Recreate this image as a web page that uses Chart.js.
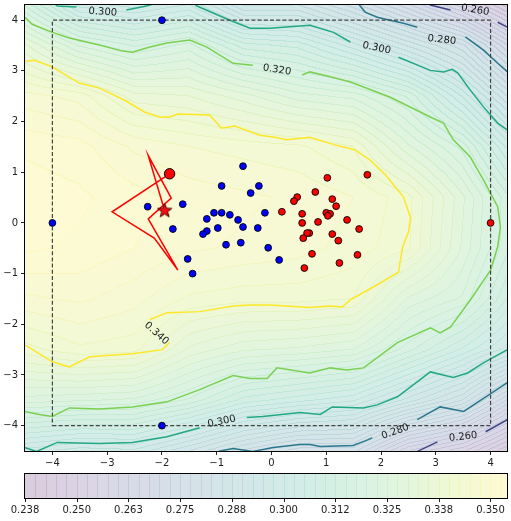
<!DOCTYPE html>
<html lang="en">
<head>
<meta charset="UTF-8" />
<title>Contour map</title>
<script src="https://cdn.jsdelivr.net/npm/chart.js"></script>
<style>
  html, body { margin: 0; padding: 0; background: #fff; }
</style>
</head>
<body>
<canvas id="chart" width="511" height="521"></canvas>
<script>
  // axis ticks
  const xTicks = [-4, -3, -2, -1, 0, 1, 2, 3, 4];
  const yTicks = [-4, -3, -2, -1, 0, 1, 2, 3, 4];
  const cbTicks = [0.2375, 0.25, 0.2625, 0.275, 0.2875, 0.3, 0.3125, 0.325, 0.3375, 0.35];
  const cbTickLabels = ['0.238', '0.250', '0.263', '0.275', '0.288', '0.300', '0.312', '0.325', '0.338', '0.350'];
  const cbMin = 0.2375, cbMax = 0.354, cbStep = 0.0025;

  // coarse value grid (rows top -> bottom)
  const gridX = [-4.5, -3.5, -2.5, -1.5, -0.5, 0.5, 1.5, 2.5, 3.5, 4.5];
  const gridY = [4.5, 3.5, 2.5, 1.5, 0.5, -0.5, -1.5, -2.5, -3.5, -4.5];
  const fieldZ = [
    [0.313, 0.296, 0.294, 0.298, 0.284, 0.285, 0.276, 0.265, 0.252, 0.238],
    [0.333, 0.322, 0.317, 0.321, 0.311, 0.309, 0.301, 0.292, 0.283, 0.264],
    [0.346, 0.344, 0.336, 0.335, 0.331, 0.326, 0.324, 0.317, 0.302, 0.284],
    [0.352, 0.351, 0.347, 0.345, 0.344, 0.343, 0.340, 0.328, 0.319, 0.301],
    [0.354, 0.353, 0.351, 0.349, 0.348, 0.347, 0.345, 0.341, 0.328, 0.313],
    [0.353, 0.352, 0.350, 0.348, 0.347, 0.346, 0.344, 0.3405, 0.327, 0.313],
    [0.347, 0.348, 0.346, 0.342, 0.341, 0.341, 0.340, 0.327, 0.322, 0.307],
    [0.339, 0.342, 0.341, 0.332, 0.328, 0.327, 0.325, 0.316, 0.307, 0.297],
    [0.324, 0.323, 0.322, 0.317, 0.309, 0.306, 0.303, 0.294, 0.285, 0.266],
    [0.299, 0.296, 0.297, 0.290, 0.282, 0.276, 0.276, 0.260, 0.253, 0.240]
  ];

  // contour lines, split where the inline labels sit
  const c340 = [
    [[-4.51,3.19],[-4.33,3.21],[-4.02,3.09],[-3.51,2.76],[-3.14,2.66],[-2.68,2.42],[-2.32,2.19],[-2.04,2.09],[-1.86,2.09],[-1.71,2.15],[-1.13,2.13],[-0.91,1.87],[-0.67,1.91],[-0.21,1.73],[0.06,1.69],[0.28,1.64],[0.70,1.69],[1.16,1.54],[1.53,1.44],[1.80,1.24],[2.08,0.95],[2.41,0.51],[2.54,0.10],[2.50,-0.18],[2.39,-0.49],[2.32,-0.97],[1.93,-1.22],[1.44,-1.52],[1.29,-1.66],[1.07,-1.64],[0.70,-1.67],[-0.03,-1.62],[-0.39,-1.62],[-0.70,-1.64],[-1.31,-1.75],[-1.91,-1.77],[-2.22,-1.91]],
    [[-1.86,-2.36],[-1.99,-2.50],[-2.54,-2.58],[-3.32,-2.64],[-3.69,-2.84],[-4.0,-2.74],[-4.51,-2.40]]
  ];
  const c320 = [
    [[-4.5,4.06],[-4.37,3.92],[-4.0,3.76],[-3.69,3.65],[-3.14,3.51],[-2.72,3.39],[-2.54,3.37],[-2.22,3.47],[-1.91,3.55],[-1.49,3.61],[-1.18,3.47],[-0.70,3.15],[-0.34,3.11]],
    [[0.56,2.92],[0.70,2.98],[1.02,2.90],[1.44,2.78],[2.17,2.48],[2.90,2.09],[3.14,1.97],[3.32,1.64],[3.63,1.30],[3.87,0.85],[4.13,0.32],[4.18,-0.08],[4.13,-0.47],[4.0,-0.93],[3.63,-1.52],[3.27,-2.05],[3.08,-2.17],[2.90,-2.07],[2.30,-2.36],[1.68,-2.86],[1.38,-2.90],[1.07,-2.86],[0.70,-2.96],[0.10,-2.86],[-0.08,-3.07],[-0.39,-3.07],[-0.70,-3.01],[-1.31,-3.29],[-1.91,-3.53],[-2.54,-3.63],[-3.14,-3.67],[-3.69,-3.65],[-4.0,-3.82],[-4.24,-3.78],[-4.51,-3.72]]
  ];
  const c300 = [
    [[-4.0,4.36],[-3.91,4.28],[-3.56,4.26]],
    [[-2.65,4.20],[-2.28,4.28],[-1.95,4.39],[-1.49,4.39],[-1.36,4.28],[-0.76,4.0],[-0.39,3.84],[-0.03,3.84],[0.70,3.90],[1.13,3.76],[1.44,3.57]],
    [[2.32,3.27],[2.90,3.01],[3.14,2.98],[3.30,3.03],[3.40,2.96],[3.63,2.62],[3.87,2.29],[4.13,1.97],[4.31,1.83]],
    [[4.31,-2.50],[3.87,-2.76],[3.58,-2.96],[3.32,-3.05],[2.90,-2.94],[2.30,-3.43],[1.93,-3.59],[1.68,-3.65],[1.11,-3.63],[0.89,-3.78],[0.52,-3.74],[-0.16,-3.82],[-0.45,-3.84]],
    [[-1.31,-4.04],[-1.91,-4.22],[-2.54,-4.33],[-3.14,-4.35],[-3.91,-4.33],[-4.29,-4.51],[-4.51,-4.43]]
  ];
  const c280 = [
    [[1.57,4.35],[1.62,4.28],[1.71,4.16],[1.93,4.06],[2.41,3.94],[2.66,3.86]],
    [[3.54,3.67],[3.87,3.41],[4.13,3.15],[4.31,2.98]],
    [[4.31,-3.15],[3.51,-3.72],[3.08,-3.63],[2.66,-3.88]],
    [[1.84,-4.24],[1.71,-4.30],[1.49,-4.39],[0.89,-4.41],[0.70,-4.37],[0.52,-4.37],[0.03,-4.43],[-0.34,-4.51],[-0.70,-4.45],[-0.94,-4.50],[-1.1,-4.6]]
  ];
  const c260 = [
    [[2.85,4.4],[2.90,4.30],[3.27,4.20]],
    [[4.13,3.96],[4.31,3.86]],
    [[4.31,-3.88],[3.91,-4.12]],
    [[3.03,-4.32],[2.66,-4.51],[2.6,-4.6]]
  ];
  // [text, x, y, rotation in degrees]
  const contourLabels = [
    ['0.300', -3.08, 4.16, 4], ['0.320', 0.10, 3.02, 9], ['0.300', 1.92, 3.45, 12],
    ['0.280', 3.11, 3.61, 6], ['0.260', 3.72, 4.20, 10], ['0.340', -2.10, -2.18, 42],
    ['0.300', -0.91, -3.92, -12], ['0.280', 2.26, -4.12, -20], ['0.260', 3.50, -4.22, -6]
  ];

  // samples
  const blueX = [-0.52,-0.91,-0.23,-0.38,-1.62,-2.26,-1.05,-0.91,-0.76,-0.12,-1.18,-0.61,-1.80,-0.98,-0.52,-0.25,-1.18,-1.25,-0.83,-0.56,-0.06,0.14,-1.53,-1.44,-4,-2,-2];
  const blueY = [1.12,0.73,0.73,0.59,0.37,0.32,0.20,0.20,0.16,0.20,0.08,0.06,-0.12,-0.10,-0.08,-0.10,-0.16,-0.22,-0.43,-0.39,-0.49,-0.73,-0.71,-1.00,0,4,-4];
  const redX = [1.02,1.75,0.47,0.41,0.80,1.11,1.18,0.19,0.56,1.00,1.07,1.03,1.38,0.56,0.85,1.60,0.69,0.65,1.11,0.58,1.22,0.74,1.57,1.24,0.60,4];
  const redY = [0.89,0.95,0.51,0.43,0.61,0.47,0.33,0.22,0.18,0.20,0.18,0.14,0.06,0.00,0.02,-0.12,-0.20,-0.20,-0.22,-0.30,-0.35,-0.61,-0.63,-0.79,-0.89,0];
  const pathX = [-1.86, -2.91, -2.14, -1.71, -2.25, -1.83, -2.25, -1.95];
  const pathY = [0.97, 0.22, -0.30, -0.93, 0.08, 0.49, 1.33, 0.24];
  const startPoint = [-1.86, 0.97];
  const bestPoint = [-1.95, 0.24];
  const boxX = [-4, 4, 4, -4, -4];
  const boxY = [-4, -4, 4, 4, -4];

  const VIRIDIS = [[68,1,84],[72,36,117],[65,68,135],[53,95,141],[42,120,142],[33,145,140],[34,168,132],[68,191,112],[122,209,81],[189,223,38],[253,231,37]];
  function viridis(t) {
    t = Math.max(0, Math.min(1, t));
    const f = t * 10, i = Math.min(9, Math.floor(f)), u = f - i;
    const a = VIRIDIS[i], b = VIRIDIS[i + 1];
    return [a[0] + (b[0] - a[0]) * u, a[1] + (b[1] - a[1]) * u, a[2] + (b[2] - a[2]) * u];
  }
  function tint(c, alpha) {
    return [255 * (1 - alpha) + c[0] * alpha, 255 * (1 - alpha) + c[1] * alpha, 255 * (1 - alpha) + c[2] * alpha];
  }

  function sampleField(vx, vy) {
    let i = 0, j = 0;
    while (i < gridX.length - 2 && vx > gridX[i + 1]) i++;
    while (j < gridY.length - 2 && vy < gridY[j + 1]) j++;
    const u = Math.max(0, Math.min(1, (vx - gridX[i]) / (gridX[i + 1] - gridX[i])));
    const v = Math.max(0, Math.min(1, (vy - gridY[j]) / (gridY[j + 1] - gridY[j])));
    const top = fieldZ[j][i] * (1 - u) + fieldZ[j][i + 1] * u;
    const bot = fieldZ[j + 1][i] * (1 - u) + fieldZ[j + 1][i + 1] * u;
    return top * (1 - v) + bot * v;
  }
  function bandColor(k, alpha) {
    const mid = cbMin + (k + 0.5) * cbStep;
    return tint(viridis((mid - cbMin) / (cbMax - cbMin)), alpha);
  }

  const fieldPlugin = {
    id: 'field',
    beforeDatasetsDraw(chart) {
      const { ctx, chartArea: a, scales: { x, y } } = chart;
      const L = Math.round(a.left), T = Math.round(a.top);
      const w = Math.round(a.right) - L, h = Math.round(a.bottom) - T;
      const band = new Int16Array(w * h);
      for (let j = 0; j < h; j++) {
        const vy = y.getValueForPixel(T + j + 0.5);
        for (let i = 0; i < w; i++) {
          const vx = x.getValueForPixel(L + i + 0.5);
          band[j * w + i] = Math.floor((sampleField(vx, vy) - cbMin) / cbStep);
        }
      }
      const img = ctx.createImageData(w, h);
      for (let j = 0; j < h; j++) {
        for (let i = 0; i < w; i++) {
          const k = band[j * w + i];
          const edge = (i < w - 1 && band[j * w + i + 1] !== k) || (j < h - 1 && band[(j + 1) * w + i] !== k);
          const c = bandColor(k, edge ? 0.3 : 0.2);
          const p = (j * w + i) * 4;
          img.data[p] = c[0]; img.data[p + 1] = c[1]; img.data[p + 2] = c[2]; img.data[p + 3] = 255;
        }
      }
      ctx.putImageData(img, L, T);
    },
    afterDatasetsDraw(chart) {
      const { ctx, chartArea: a, scales: { x, y } } = chart;
      ctx.save();
      ctx.font = '10px "DejaVu Sans"';
      ctx.fillStyle = '#1a1a1a';
      ctx.textAlign = 'center';
      ctx.textBaseline = 'middle';
      contourLabels.forEach(([t, lx, ly, rot]) => {
        ctx.save();
        ctx.translate(x.getPixelForValue(lx), y.getPixelForValue(ly));
        ctx.rotate(rot * Math.PI / 180);
        ctx.fillText(t, 0, 0);
        ctx.restore();
      });
      ctx.strokeStyle = '#000';
      ctx.lineWidth = 1;
      ctx.strokeRect(Math.round(a.left) - 0.5, Math.round(a.top) - 0.5, Math.round(a.right - a.left) + 1, Math.round(a.bottom - a.top) + 1);
      ctx.restore();
    },
    afterDraw(chart) {
      const { ctx, scales: { cb } } = chart;
      const top = cb.top + 3, bottom = top + 24;
      ctx.save();
      const nBands = Math.ceil((cbMax - cbMin) / cbStep);
      for (let k = 0; k < nBands; k++) {
        const v0 = cbMin + k * cbStep, v1 = Math.min(cbMax, v0 + cbStep);
        const x0 = cb.getPixelForValue(v0), x1 = cb.getPixelForValue(v1);
        const c = bandColor(k, 0.2);
        ctx.fillStyle = `rgb(${c[0]},${c[1]},${c[2]})`;
        ctx.fillRect(x0, top, x1 - x0 + 0.6, bottom - top);
        if (k > 0) {
          const e = bandColor(k, 0.3);
          ctx.fillStyle = `rgb(${e[0]},${e[1]},${e[2]})`;
          ctx.fillRect(Math.round(x0), top, 1, bottom - top);
        }
      }
      ctx.strokeStyle = '#000';
      ctx.lineWidth = 1;
      ctx.strokeRect(Math.round(cb.left) - 0.5, top - 0.5, Math.round(cb.right - cb.left) + 1, bottom - top + 1);
      ctx.strokeStyle = '#222';
      cbTicks.forEach(v => {
        const px = Math.round(cb.getPixelForValue(v)) + 0.5;
        ctx.beginPath();
        ctx.moveTo(px, bottom + 0.5);
        ctx.lineTo(px, bottom + 4);
        ctx.stroke();
      });
      ctx.restore();
    }
  };

  function makeStar(size, fill, edge) {
    const c = document.createElement('canvas');
    c.width = c.height = size;
    const g = c.getContext('2d');
    const r = size / 2 - 1, ri = r * 0.42, cx = size / 2;
    g.beginPath();
    for (let k = 0; k < 10; k++) {
      const ang = -Math.PI / 2 + k * Math.PI / 5;
      const rr = k % 2 ? ri : r;
      g.lineTo(cx + rr * Math.cos(ang), cx + rr * Math.sin(ang));
    }
    g.closePath();
    g.fillStyle = fill;
    g.fill();
    g.strokeStyle = edge;
    g.lineWidth = 1;
    g.stroke();
    return c;
  }

  const pts = (xs, ys) => xs.map((v, i) => ({ x: v, y: ys[i] }));
  const pairPts = seg => seg.map(p => ({ x: p[0], y: p[1] }));

  const datasets = [
    { data: [{ x: bestPoint[0], y: bestPoint[1] }], pointStyle: makeStar(17, '#ee1111', '#4a0000'), pointRadius: 8 },
    { data: [{ x: startPoint[0], y: startPoint[1] }], pointRadius: 5.2, pointBackgroundColor: '#ff0000', pointBorderColor: '#000', pointBorderWidth: 1 },
    { data: pts(redX, redY), pointRadius: 3.4, pointBackgroundColor: '#ff0000', pointBorderColor: '#000', pointBorderWidth: 0.9 },
    { data: pts(blueX, blueY), pointRadius: 3.4, pointBackgroundColor: '#0000ff', pointBorderColor: '#000', pointBorderWidth: 0.9 },
    { data: pts(pathX, pathY), showLine: true, borderColor: '#ff0000', borderWidth: 1.5, pointRadius: 0, tension: 0 },
    { data: pts(boxX, boxY), showLine: true, borderColor: '#444', borderWidth: 1.2, borderDash: [4, 2.2], pointRadius: 0, tension: 0 }
  ];
  const contourSets = [[c340, '#fde725'], [c320, '#7ad151'], [c300, '#22a884'], [c280, '#2a788e'], [c260, '#414487']];
  contourSets.forEach(([segs, color]) => {
    segs.forEach(seg => datasets.push({ data: pairPts(seg), showLine: true, borderColor: color, borderWidth: 1.5, pointRadius: 0, tension: 0, clip: 0 }));
  });
  datasets.forEach(d => { d.xAxisID = 'x'; d.yAxisID = 'y'; });

  const tickFont = { family: 'DejaVu Sans', size: 10 };
  const fmt = v => (v < 0 ? '\u2212' + Math.abs(v) : String(v));
  // keep chart.js from reserving room for edge labels
  const noPad = s => { s.paddingLeft = 0; s.paddingRight = 0; s.paddingTop = 0; s.paddingBottom = 0; };

  new Chart(document.getElementById('chart'), {
    type: 'scatter',
    data: { datasets },
    options: {
      responsive: false,
      animation: false,
      events: [],
      layout: { autoPadding: false, padding: { top: 5, right: 4, left: 0, bottom: 0 } },
      plugins: { legend: { display: false }, tooltip: { enabled: false } },
      scales: {
        x: {
          type: 'linear', position: 'bottom', min: -4.5, max: 4.3, weight: 0,
          afterBuildTicks: s => { s.ticks = xTicks.map(v => ({ value: v })); },
          afterFit: s => { s.height = 20; noPad(s); },
          ticks: { callback: fmt, font: tickFont, color: '#222', padding: 2, maxRotation: 0, autoSkip: false },
          grid: { drawOnChartArea: false, drawTicks: true, tickLength: 4, color: '#222' },
          border: { display: false }
        },
        y: {
          type: 'linear', position: 'left', min: -4.5, max: 4.3,
          afterBuildTicks: s => { s.ticks = yTicks.map(v => ({ value: v })); },
          afterFit: s => { s.width = 25; noPad(s); },
          ticks: { callback: fmt, font: tickFont, color: '#222', padding: 3, autoSkip: false },
          grid: { drawOnChartArea: false, drawTicks: true, tickLength: 4, color: '#222' },
          border: { display: false }
        },
        cb: {
          type: 'linear', axis: 'x', position: 'bottom', min: cbMin, max: cbMax, weight: 1,
          afterBuildTicks: s => { s.ticks = cbTicks.map(v => ({ value: v })); },
          afterFit: s => { s.height = 50; noPad(s); },
          ticks: { callback: (v, i) => cbTickLabels[i], font: tickFont, color: '#222', padding: 33, maxRotation: 0, autoSkip: false },
          grid: { display: false, drawTicks: false },
          border: { display: false }
        }
      }
    },
    plugins: [fieldPlugin]
  });
</script>
</body>
</html>
